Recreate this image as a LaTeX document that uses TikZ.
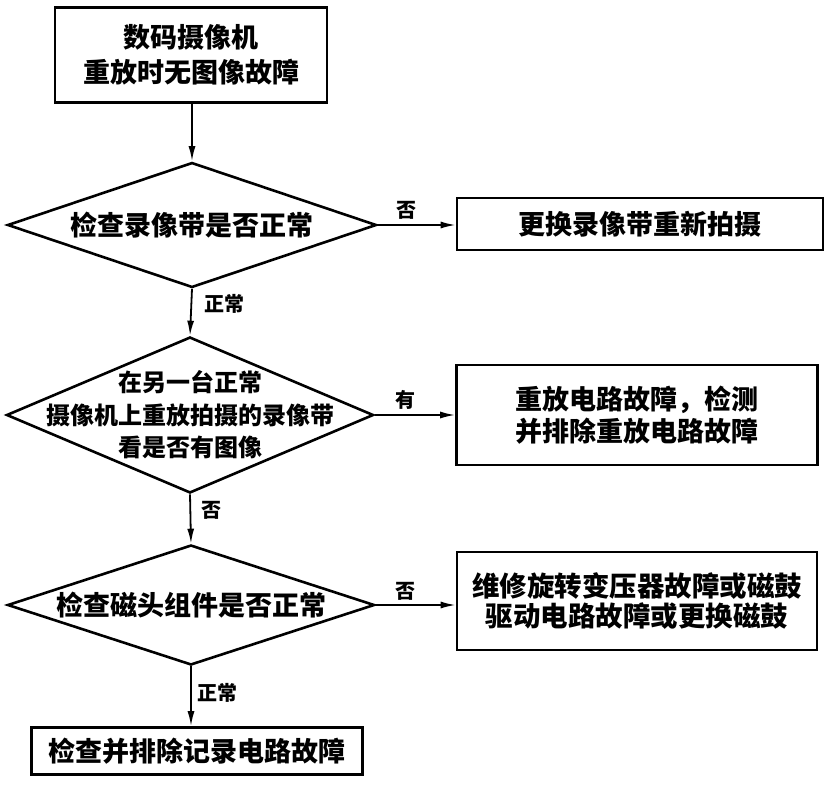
\documentclass[tikz,border=0pt]{standalone}
\usepackage{fontspec}
\setmainfont{Noto Sans CJK SC}
\usetikzlibrary{shapes.geometric,arrows.meta}
\tikzset{
  procbox/.style={draw, line width=2.6pt, inner sep=0pt, align=center, font=\bfseries\fontsize{27}{34}\selectfont},
  decision/.style={draw, diamond, line width=2.6pt, inner sep=0pt},
  dtext/.style={align=center, inner sep=0pt, font=\bfseries\fontsize{27}{34}\selectfont},
  flow/.style={line width=1.8pt, -{Latex[length=15pt,width=7pt]}},
  lbl/.style={inner sep=0pt, font=\bfseries\fontsize{20}{22}\selectfont}
}
\begin{document}
\begin{tikzpicture}[x=1pt,y=-1pt]
\useasboundingbox (0,0) rectangle (827,788);
% boxes
\node[procbox, minimum width=272pt, minimum height=95pt, font=\bfseries\fontsize{27}{35}\selectfont] (b1) at (191,55) {数码摄像机\\重放时无图像故障};
\node[procbox, minimum width=366pt, minimum height=52pt] (b2) at (640,224) {更换录像带重新拍摄};
\node[procbox, minimum width=361pt, minimum height=100pt, font=\bfseries\fontsize{27}{32}\selectfont] (b3) at (637,415) {重放电路故障，检测\\并排除重放电路故障};
\node[procbox, minimum width=360pt, minimum height=98pt, font=\bfseries\fontsize{27.5}{30}\selectfont] (b4) at (637,601) {维修旋转变压器故障或磁鼓\\驱动电路故障或更换磁鼓};
\node[procbox, minimum width=331pt, minimum height=47pt] (b5) at (197,751) {检查并排除记录电路故障};
% decisions
\node[decision, minimum width=369pt, minimum height=125pt] (d1) at (192,225) {};
\node[dtext] (d1t) at (d1.center) {检查录像带是否正常};
\node[decision, minimum width=367pt, minimum height=156pt] (d2) at (190,415) {};
\node[dtext, font=\bfseries\fontsize{24}{32.5}\selectfont] (d2t) at (d2.center) {在另一台正常\\摄像机上重放拍摄的录像带\\看是否有图像};
\node[decision, minimum width=367pt, minimum height=120pt] (d3) at (191,605) {};
\node[dtext] (d3t) at (d3.center) {检查磁头组件是否正常};
% connectors
\draw[flow] (b1.south -| d1.north) -- (d1.north);
\draw[flow] (d1.east) -- (d1.east -| b2.west);
\draw[flow] (d1.south) -- (d2.north);
\draw[flow] (d2.east) -- (d2.east -| b3.west);
\draw[flow] (d2.south) -- (d3.north);
\draw[flow] (d3.east) -- (d3.east -| b4.west);
\draw[flow] (d3.south) -- (d3.south |- b5.north);
% labels
\node[lbl] (l1) at (406,210) {否};
\node[lbl] (l2) at (224,304) {正常};
\node[lbl] (l3) at (405,400) {有};
\node[lbl] (l4) at (211,510) {否};
\node[lbl] (l5) at (405,591) {否};
\node[lbl] (l6) at (217,693) {正常};
\end{tikzpicture}
\end{document}
